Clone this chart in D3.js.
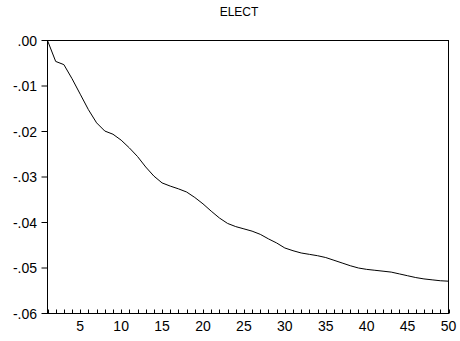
<!DOCTYPE html>
<meta charset="utf-8">
<head>
<style>
body { margin: 0; background: #fff; }
svg { display: block; }
text { font-family: "Liberation Sans", Arial, sans-serif; fill: #000; }
.tick-label { font-size: 14px; }
.title { font-size: 12px; }
</style>
<script src="https://d3js.org/d3.v7.min.js"></script>
</head>
<body>
<svg width="460" height="341"></svg>
<script>

var title = "ELECT";

// response values, periods 1..50
var periods = d3.range(1, 51);
var values = [
  0.0000, -0.0046, -0.0053, -0.0084, -0.0118, -0.0152, -0.0181, -0.0199, -0.0206, -0.0219,
  -0.0236, -0.0255, -0.0278, -0.0298, -0.0313, -0.0320, -0.0326, -0.0333, -0.0345, -0.0359,
  -0.0375, -0.0390, -0.0402, -0.0409, -0.0414, -0.0419, -0.0426, -0.0436, -0.0445, -0.0456,
  -0.0462, -0.0467, -0.0470, -0.0473, -0.0477, -0.0483, -0.0489, -0.0495, -0.0500, -0.0503,
  -0.0505, -0.0507, -0.0509, -0.0513, -0.0517, -0.0521, -0.0524, -0.0526, -0.0528, -0.0529
];

var yTicks = [0, -0.01, -0.02, -0.03, -0.04, -0.05, -0.06];
var yTickLabels = [".00", "-.01", "-.02", "-.03", "-.04", "-.05", "-.06"];
var xTickLabels = [5, 10, 15, 20, 25, 30, 35, 40, 45, 50];

var svg = d3.select("svg");

var x = d3.scaleLinear().domain([1, 50]).range([47.5, 448.5]);
var y = d3.scaleLinear().domain([-0.06, 0]).range([313.5, 40.5]);

// frame
svg.append("rect")
    .attr("x", x(1)).attr("y", y(0))
    .attr("width", x(50) - x(1)).attr("height", y(-0.06) - y(0))
    .attr("fill", "none").attr("stroke", "#000").attr("stroke-width", 1);

// y axis ticks (outside, left)
var yAxis = svg.append("g");
yAxis.selectAll("line")
  .data(yTicks)
  .enter().append("line")
    .attr("x1", x(1) - 6).attr("x2", x(1))
    .attr("y1", function(d) { return y(d); })
    .attr("y2", function(d) { return y(d); })
    .attr("stroke", "#000");
yAxis.selectAll("text")
  .data(yTicks)
  .enter().append("text")
    .attr("class", "tick-label")
    .attr("x", 37)
    .attr("y", function(d) { return y(d); })
    .attr("dy", "0.36em")
    .attr("text-anchor", "end")
    .text(function(d, i) { return yTickLabels[i]; });

// x axis ticks (inside, every period)
var xAxis = svg.append("g");
xAxis.selectAll("line")
  .data(periods)
  .enter().append("line")
    .attr("x1", function(d) { return Math.round(x(d)) + 0.5; })
    .attr("x2", function(d) { return Math.round(x(d)) + 0.5; })
    .attr("y1", y(-0.06))
    .attr("y2", y(-0.06) - 4)
    .attr("stroke", "#000");
xAxis.selectAll("text")
  .data(xTickLabels)
  .enter().append("text")
    .attr("class", "tick-label")
    .attr("x", function(d) { return x(d); })
    .attr("y", 331)
    .attr("text-anchor", "middle")
    .text(function(d) { return d; });

// title
svg.append("text")
    .attr("class", "title")
    .attr("x", 239)
    .attr("y", 16)
    .attr("text-anchor", "middle")
    .text(title);

// response line
var line = d3.line()
    .x(function(d, i) { return x(periods[i]); })
    .y(function(d) { return y(d); });

svg.append("path")
    .datum(values)
    .attr("d", line)
    .attr("fill", "none")
    .attr("stroke", "#000")
    .attr("stroke-width", 1);

</script>
</body>
